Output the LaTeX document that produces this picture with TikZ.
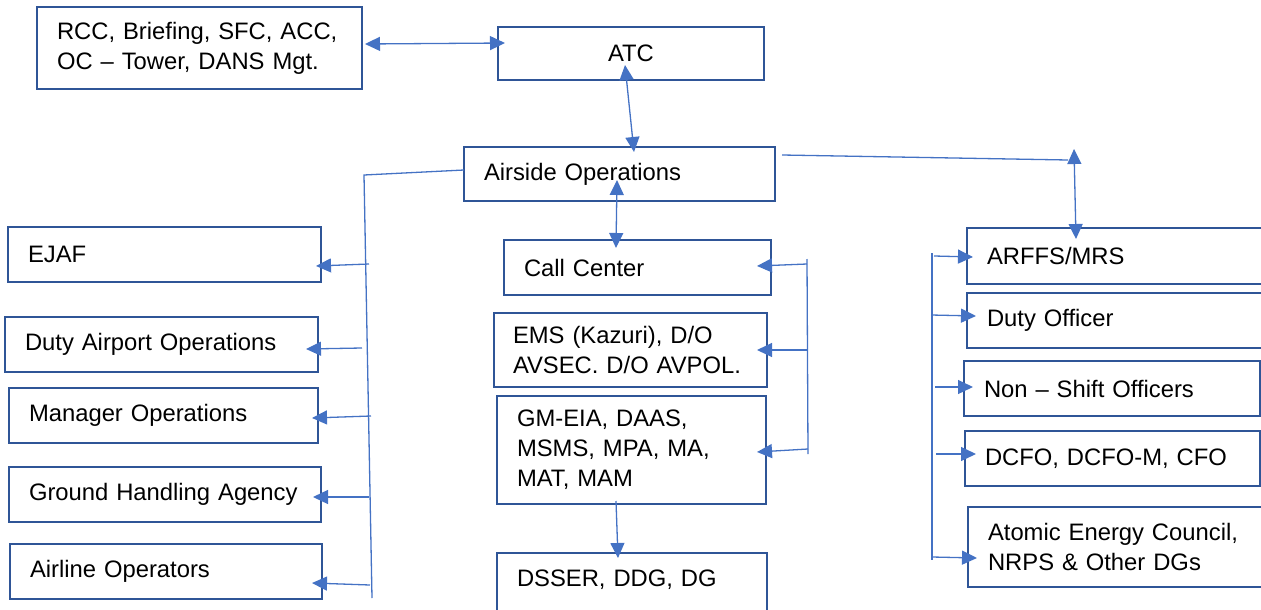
\documentclass[tikz,border=0pt]{standalone}
\usepackage{fontspec}
\setmainfont{Liberation Sans}
\usetikzlibrary{arrows.meta,calc}
\definecolor{boxblue}{HTML}{2F5597}
\definecolor{linkblue}{HTML}{4472C4}

\begin{document}
\begin{tikzpicture}[x=1pt,y=-1pt,
  orgbox/.style={draw=boxblue, line width=2.5pt, rectangle, anchor=north west,
    inner xsep=20pt, inner ysep=0pt, outer sep=0pt, align=left,
    font=\fontsize{23.8}{30}\selectfont, text=black},
  link/.style={draw=linkblue, line width=1.3pt},
  tip/.style={link, -{Triangle[length=15pt,width=14pt]}},
  bitip/.style={link, {Triangle[length=15pt,width=14pt]}-{Triangle[length=15pt,width=14pt]}}]
\useasboundingbox (0,0) rectangle (1261,610);

% top row
\node[orgbox, text width=285pt, minimum height=82pt] (rcc) at (37,7)
  {RCC, Briefing, SFC, ACC,\\OC – Tower, DANS Mgt.};
\node[orgbox, align=center, text width=226pt, minimum height=53pt] (atc) at (498,27) {ATC};
\node[orgbox, text width=271pt, minimum height=54pt] (air) at (464,147) {Airside Operations};

% left column
\node[orgbox, text width=273pt, minimum height=55pt] (ejaf) at (8,227) {EJAF};
\node[orgbox, text width=273pt, minimum height=55pt] (dao) at (5,317) {Duty Airport Operations};
\node[orgbox, text width=269pt, minimum height=55pt] (mgr) at (9,388) {Manager Operations};
\node[orgbox, text width=272pt, minimum height=55pt] (gha) at (9,467) {Ground Handling Agency};
\node[orgbox, text width=272pt, minimum height=55pt] (alo) at (10,544) {Airline Operators};

% centre column
\node[orgbox, text width=227pt, minimum height=55pt] (cc) at (504,240) {Call Center};
\node[orgbox, inner xsep=19pt, text width=235pt, minimum height=74pt] (ems) at (494,313)
  {EMS (Kazuri), D/O\\AVSEC. D/O AVPOL.};
\node[orgbox, text width=229pt, minimum height=108pt] (gm) at (497,396)
  {GM-EIA, DAAS,\\MSMS, MPA, MA,\\MAT, MAM};
\node[orgbox, text width=230pt, minimum height=62pt, text depth=12pt] (dsser) at (497,553)
  {DSSER, DDG, DG};

% right column
\node[orgbox, text width=257pt, minimum height=56pt] (arffs) at (967,228) {ARFFS/MRS};
\node[orgbox, text width=257pt, minimum height=55pt] (dof) at (967,293) {Duty Officer};
\node[orgbox, text width=256pt, minimum height=55pt] (nso) at (964,361) {Non – Shift Officers};
\node[orgbox, text width=255pt, minimum height=55pt] (dcfo) at (965,431) {DCFO, DCFO-M, CFO};
\node[orgbox, text width=256pt, minimum height=80pt] (aec) at (968,507)
  {Atomic Energy Council,\\NRPS \& Other DGs};

% main spine
\draw[bitip] ($(rcc.east)+(3,-4)$) -- ($(atc.west)+(7,-10.5)$);
\draw[bitip] ($(atc.south)+(-6,-15)$) -- ($(air.north)+(14.5,5)$);
\draw[bitip] ($(air.south)+(-2.5,-21)$) -- ($(cc.north)+(-21.5,8)$);
\draw[tip] ($(gm.south)+(-15.5,-3)$) -- ($(dsser.north)+(-14,5)$);

% left distribution bus
\coordinate (Ltop) at (364,175);
\coordinate (Lbot) at (372,598);
\draw[link] ($(air.west)+(0,-4)$) -- (Ltop) -- (Lbot);
\coordinate (l1) at (369,264);
\coordinate (l2) at (362,348);
\coordinate (l3) at (371,416);
\coordinate (l4) at (369,497);
\coordinate (l5) at (370,585);
\draw[tip] (l1) -- ($(ejaf.east)+(-5,11.5)$);
\draw[tip] (l2) -- ($(dao.east)+(-12,4.5)$);
\draw[tip] (l3) -- ($(mgr.east)+(-6,2.5)$);
\draw[tip] (l4) -- ($(gha.east)+(-8,2.5)$);
\draw[tip] (l5) -- ($(alo.east)+(-10,11.5)$);

% centre distribution bus
\coordinate (Ctop) at (807,259);
\coordinate (Cbot) at (808,454);
\draw[link] (Ctop) -- (Cbot);
\coordinate (c1) at (807,264);
\coordinate (c2) at (807,350);
\coordinate (c3) at (808,449);
\draw[tip] (c1) -- ($(cc.east)+(-14,-1.5)$);
\draw[tip] (c2) -- ($(ems.east)+(-10,0)$);
\draw[tip] (c3) -- ($(gm.east)+(-9,2)$);

% right branch
\coordinate (Rend) at (1068,160);
\coordinate (Rup) at (1074,149);
\draw[link] ($(air.east)+(7,-19)$) -- (Rend);
\draw[bitip] (Rup) -- ($(arffs.north west)+(109,11)$);

% right distribution bus
\coordinate (Rtop) at (932,253);
\coordinate (Rbot) at (932,560);
\draw[link] (Rtop) -- (Rbot);
\coordinate (r1) at (934,256);
\coordinate (r2) at (931,315);
\coordinate (r3) at (935,387);
\coordinate (r4) at (936,454);
\coordinate (r5) at (932,557);
\draw[tip] (r1) -- ($(arffs.west)+(6,1)$);
\draw[tip] (r2) -- ($(dof.west)+(9,-4.5)$);
\draw[tip] (r3) -- ($(nso.west)+(9,-1.5)$);
\draw[tip] (r4) -- ($(dcfo.west)+(11,-4.5)$);
\draw[tip] (r5) -- ($(aec.west)+(9,11)$);
\end{tikzpicture}
\end{document}
